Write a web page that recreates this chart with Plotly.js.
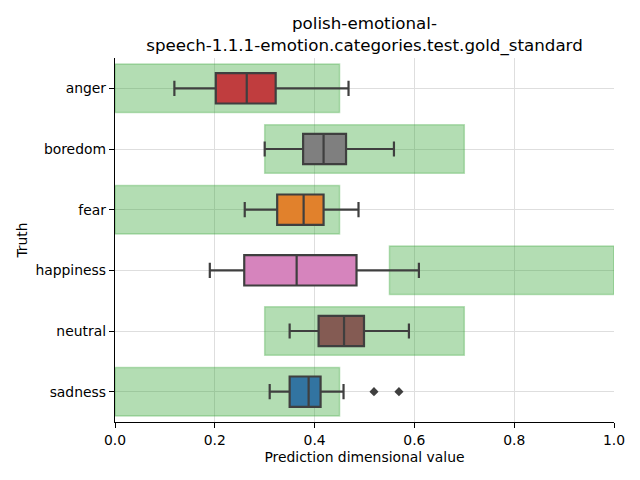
<!DOCTYPE html>
<html>
<head>
<meta charset="utf-8">
<script src="https://cdn.plot.ly/plotly-3.0.1.min.js"></script>
<style>html,body{margin:0;padding:0;background:#fff}#chart{width:640px;height:480px}</style>
</head>
<body>
<div id="chart"></div>
<script>
const categories = ["anger","boredom","fear","happiness","neutral","sadness"];
const lowerWhisker = [0.119, 0.300, 0.260, 0.190, 0.350, 0.310];
const q1Values     = [0.202, 0.377, 0.325, 0.259, 0.408, 0.350];
const medianValues = [0.264, 0.418, 0.378, 0.364, 0.459, 0.388];
const q3Values     = [0.322, 0.463, 0.418, 0.484, 0.499, 0.412];
const upperWhisker = [0.468, 0.559, 0.488, 0.609, 0.589, 0.458];
const outlierCategory = ["sadness","sadness"];
const outlierValues   = [0.519, 0.569];
const rangeStart = [0.0, 0.3, 0.0, 0.55, 0.3, 0.0];
const rangeEnd   = [0.45, 0.7, 0.45, 1.0, 0.7, 0.45];
const boxColors = ["#c03d3e","#7f7f7f","#e1812c","#d684bd","#845b53","#3274a1"];
const xTicks = [0, 0.2, 0.4, 0.6, 0.8, 1.0];

const FONT = "DejaVu Sans, sans-serif";
const lineCol = "#3f3f3f";

const traces = [];
traces.push({
  type: "bar", orientation: "h",
  y: categories,
  base: rangeStart,
  x: rangeEnd.map((e, i) => e - rangeStart[i]),
  width: 0.8,
  marker: {color: "rgba(44,160,44,0.36)", line: {color: "rgba(44,160,44,0.3)", width: 1.5}},
  hoverinfo: "skip", showlegend: false
});
categories.forEach((c, i) => {
  traces.push({
    type: "box", orientation: "h",
    y: [c],
    q1: [q1Values[i]], median: [medianValues[i]], q3: [q3Values[i]],
    lowerfence: [lowerWhisker[i]], upperfence: [upperWhisker[i]],
    width: 0.5, whiskerwidth: 0.5,
    fillcolor: boxColors[i],
    line: {color: lineCol, width: 2.2},
    boxpoints: false,
    hoverinfo: "skip", showlegend: false
  });
});
traces.push({
  type: "scatter", mode: "markers",
  y: outlierCategory, x: outlierValues,
  marker: {symbol: "diamond", color: lineCol, size: 7},
  hoverinfo: "skip", showlegend: false
});

const layout = {
  width: 640, height: 480,
  margin: {l: 115, r: 26, t: 58, b: 58},
  paper_bgcolor: "#fff", plot_bgcolor: "#fff",
  font: {family: FONT, size: 13.9, color: "#000"},
  barmode: "overlay", boxmode: "overlay",
  title: {
    text: "polish-emotional-<br>speech-1.1.1-emotion.categories.test.gold_standard",
    font: {family: FONT, size: 16.7, color: "#000"},
    x: 0.5, xref: "paper", y: 0.94, yref: "container", yanchor: "top"
  },
  xaxis: {
    range: [0, 1], tickvals: xTicks, tickformat: ".1f",
    showgrid: true, gridcolor: "#dedede", gridwidth: 1,
    zeroline: false, showline: true, linecolor: "#000", linewidth: 1.2,
    ticks: "outside", ticklen: 5, tickcolor: "#000",
    title: {text: "Prediction dimensional value", font: {family: FONT, size: 13.9}, standoff: 5},
    tickfont: {family: FONT, size: 13.9}
  },
  yaxis: {
    type: "category", categoryorder: "array", categoryarray: categories,
    range: [5.5, -0.5],
    showgrid: true, gridcolor: "#dedede", gridwidth: 1,
    zeroline: false, showline: true, linecolor: "#000", linewidth: 1.2,
    ticks: "outside", ticklen: 5, tickcolor: "#000",
    title: {text: "Truth", font: {family: FONT, size: 13.9}, standoff: 4},
    tickfont: {family: FONT, size: 13.9}
  }
};

Plotly.newPlot("chart", traces, layout, {displayModeBar: false, staticPlot: true});
</script>
</body>
</html>
